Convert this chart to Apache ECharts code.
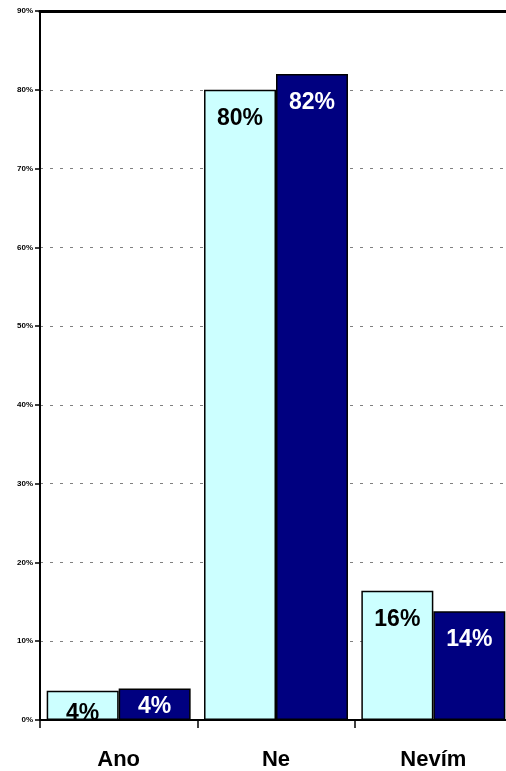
<!DOCTYPE html>
<html><head><meta charset="utf-8">
<script src="https://cdn.jsdelivr.net/npm/echarts@6/dist/echarts.min.js"></script>
<style>html,body{margin:0;padding:0;background:#fff}#c{width:506px;height:771px}</style>
</head><body><div id="c"></div>
<script>
var categories = ['Ano', 'Ne', 'Nevím'];
var series1 = [3.7, 80.0, 16.4];
var series2 = [4.0, 82.0, 13.8];
var yTicks = [0, 10, 20, 30, 40, 50, 60, 70, 80, 90];

var chart = echarts.init(document.getElementById('c'), null, {renderer: 'canvas'});
var labelBase = {
  show: true, position: 'insideTop', distance: 17,
  fontFamily: 'Liberation Sans, Arial, sans-serif', fontWeight: 'bold', fontSize: 23,
  formatter: function (p) { return Math.round(p.value) + '%'; }
};
function mk(vals, smallDist) {
  return vals.map(function (v) {
    var o = {value: v};
    if (v < 8) o.label = {distance: smallDist};
    return o;
  });
}
chart.setOption({
  animation: false,
  grid: {left: 40, width: 472, top: 11, bottom: 51, containLabel: false, outerBoundsMode: 'none'},
  xAxis: [{
    type: 'category', data: categories, position: 'bottom',
    axisLine: {lineStyle: {color: '#000', width: 2}},
    axisTick: {show: true, length: 8, lineStyle: {color: '#000', width: 1.5}},
    axisLabel: {color: '#000', fontFamily: 'Liberation Sans, Arial, sans-serif', fontWeight: 'bold', fontSize: 22, margin: 29}
  }, {
    type: 'category', data: categories, position: 'top',
    axisLine: {lineStyle: {color: '#000', width: 3}},
    axisTick: {show: false}, axisLabel: {show: false}
  }],
  yAxis: {
    type: 'value', min: 0, max: 90, interval: 10,
    axisLine: {show: true, lineStyle: {color: '#000', width: 2}},
    axisTick: {show: true, length: 5, lineStyle: {color: '#000', width: 1.5}},
    axisLabel: {color: '#000', fontFamily: 'Liberation Sans, Arial, sans-serif', fontWeight: 'bold', fontSize: 8, margin: 7,
      formatter: function (v) { return yTicks.indexOf(v) >= 0 ? v + '%' : ''; }},
    splitLine: {show: true, lineStyle: {color: '#808080', width: 1, type: [3, 7]}}
  },
  series: [{
    type: 'bar', data: mk(series1, 11.5), barGap: '0%', barCategoryGap: '8.5%',
    itemStyle: {color: '#CCFFFF', borderColor: '#000', borderWidth: 1.5},
    label: Object.assign({}, labelBase, {color: '#000'})
  }, {
    type: 'bar', data: mk(series2, 6.5), barGap: '0%', barCategoryGap: '8.5%',
    itemStyle: {color: '#000080', borderColor: '#000', borderWidth: 1.5},
    label: Object.assign({}, labelBase, {color: '#fff'})
  }]
});
</script></body></html>
